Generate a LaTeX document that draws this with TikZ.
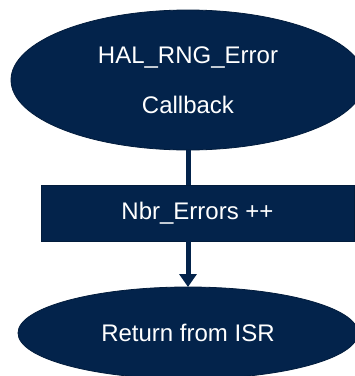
\documentclass[tikz,border=0pt]{standalone}
\usepackage{fontspec}
\setmainfont{Liberation Sans}
\usepackage{xcolor}
\usetikzlibrary{shapes.geometric,arrows.meta,positioning}

\definecolor{stblue}{HTML}{03234B}

\begin{document}
\begin{tikzpicture}[x=1pt, y=-1pt,
    flowbox/.style={fill=stblue, draw=stblue!80!black, line width=0.8pt, text=white,
        font=\fontsize{24}{50}\selectfont, inner sep=0pt, outer sep=0pt},
    link/.style={draw=stblue, line width=5pt}]
    \useasboundingbox (0,0) rectangle (355,376);
    \clip (0,0) rectangle (355,376);

    % callback
    \node[flowbox, ellipse, minimum width=354pt, minimum height=140pt, align=center]
        (cb) at (188,80) {HAL\_RNG\_Error\\Callback};

    % counter
    \node[flowbox, rectangle, minimum width=313pt, minimum height=56pt]
        (cnt) at (197.5,213) {Nbr\_Errors ++};

    % return
    \node[flowbox, ellipse, minimum width=340pt, minimum height=92pt]
        (ret) at (188,333) {Return from ISR};

    \draw[link] (cb.south) -- (cb.south |- cnt.north);
    \draw[link, -{Triangle[width=17pt, length=13pt]}] (cnt.south -| ret.north) -- (ret.north);
\end{tikzpicture}
\end{document}
